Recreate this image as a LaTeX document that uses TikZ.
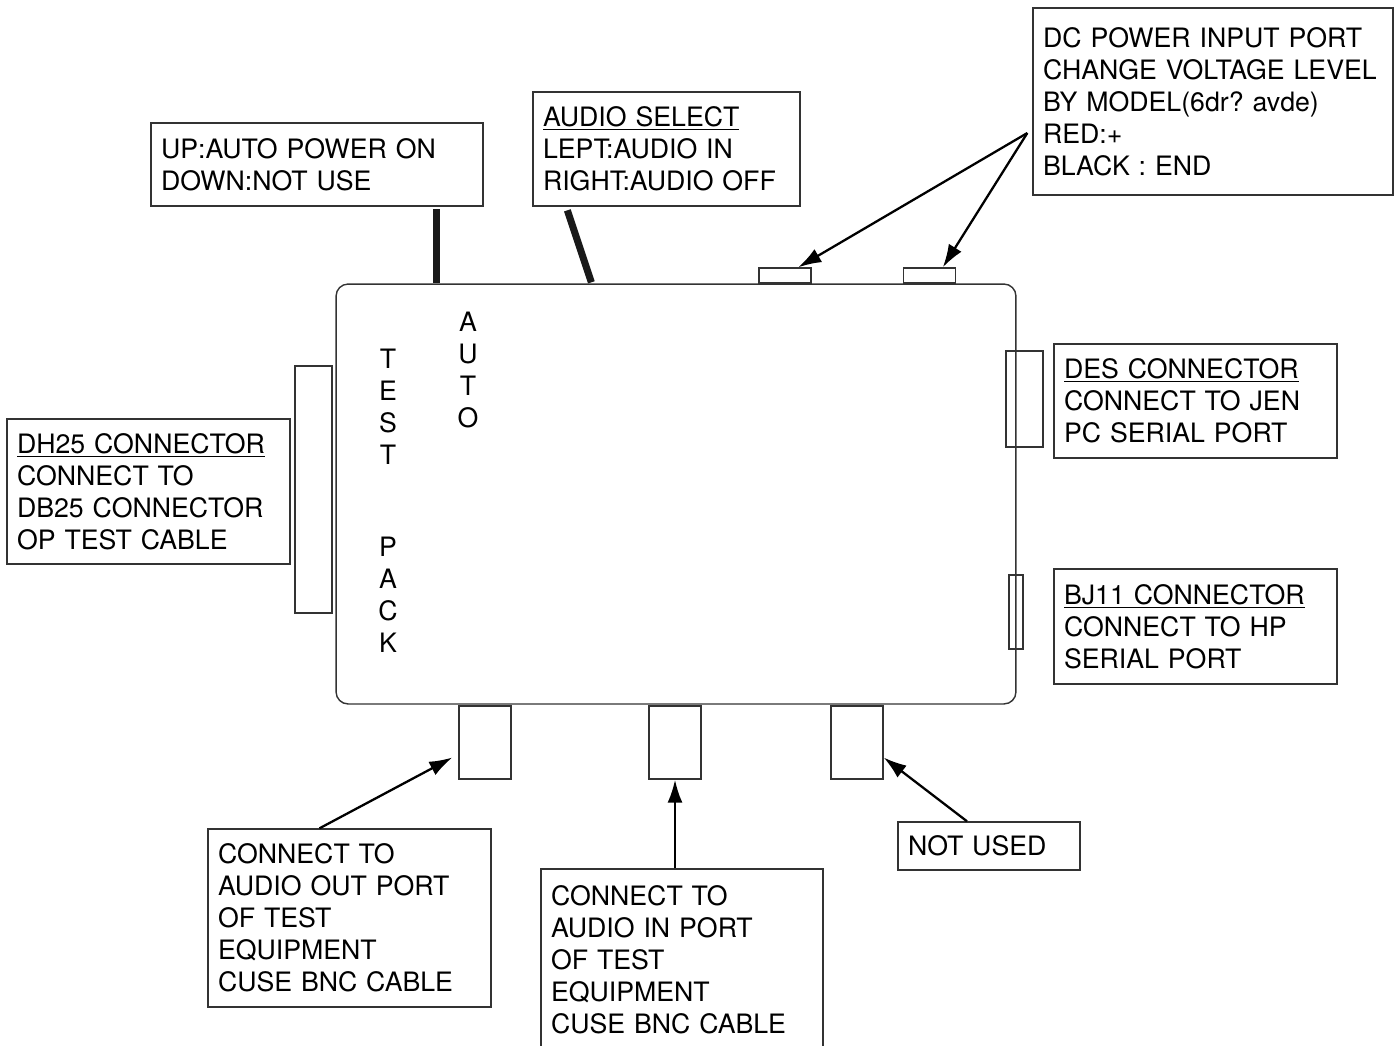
\documentclass[tikz,border=0pt]{standalone}
\usepackage{fontspec}
\setmainfont{TeX Gyre Heros}
\frenchspacing
\usetikzlibrary{arrows.meta, calc}

\begin{document}
\begin{tikzpicture}[x=0.02cm, y=-0.02cm,
    note/.style={rectangle, draw=black!80, line width=0.8pt, align=left,
        inner xsep=0.2cm, inner ysep=0pt,
        font=\fontsize{15.2}{18.2}\selectfont},
    port/.style={rectangle, draw=black!80, line width=0.8pt, inner sep=0pt},
    vtext/.style={align=center, inner sep=0pt,
        font=\fontsize{15.2}{18.2}\selectfont},
    pointer/.style={-{Latex[length=0.46cm, width=0.3cm]}, line width=1.3pt},
    lever/.style={line width=4pt, draw=black!90}
]
\useasboundingbox (0,0) rectangle (1398,1045);
% test pack body
\node[draw=black!80, line width=0.8pt, rounded corners=0.24cm,
      minimum width=13.6cm, minimum height=8.4cm] (pack) at (676,494) {};
\node[vtext] (testlbl) at (388,406.5) {T\\E\\S\\T};
\node[vtext] (packlbl) at (388,595) {P\\A\\C\\K};
\node[vtext] (autolbl) at (468,370) {A\\U\\T\\O};
% ports round the body
\node[port, minimum width=1.04cm, minimum height=0.3cm] (dcA) at (785,275.5) {};
\node[port, minimum width=1.04cm, minimum height=0.3cm] (dcB) at (929.5,275.5) {};
\node[port, minimum width=0.74cm, minimum height=4.94cm] (db25) at (313.5,489.5) {};
\node[port, minimum width=0.74cm, minimum height=1.92cm] (des) at (1024.5,399) {};
\node[port, minimum width=0.28cm, minimum height=1.48cm] (bj11) at (1016,612) {};
\node[port, minimum width=1.04cm, minimum height=1.46cm] (bnc1) at (485,742.5) {};
\node[port, minimum width=1.04cm, minimum height=1.46cm] (bnc2) at (675,742.5) {};
\node[port, minimum width=1.04cm, minimum height=1.46cm] (bnc3) at (857,742.5) {};
% switches
\draw[lever] ($(pack.north west)+(101,-74)$) -- ($(pack.north west)+(101,0)$);
\draw[lever] ($(pack.north west)+(232,-73)$) -- ($(pack.north west)+(256,-1)$);
% notes
\node[note, text width=6.24cm, minimum height=1.66cm] (autonote) at (317,164.5)
    {UP:AUTO POWER ON\\DOWN:NOT USE};
\node[note, text width=4.94cm, minimum height=2.28cm] (audionote) at (666.5,149)
    {\underline{AUDIO SELECT}\\LEPT:AUDIO IN\\RIGHT:AUDIO OFF};
\node[note, text width=6.8cm, minimum height=3.74cm] (dcnote) at (1213,101.5)
    {DC POWER INPUT PORT\\CHANGE VOLTAGE LEVEL\\BY MODEL(6dr? avde)\\RED:+\\BLACK : END};
\node[note, text width=5.26cm, minimum height=2.9cm] (dbnote) at (148.5,491.5)
    {\underline{DH25 CONNECTOR}\\CONNECT TO\\DB25 CONNECTOR\\OP TEST CABLE};
\node[note, text width=5.26cm, minimum height=2.28cm] (desnote) at (1195.5,401)
    {\underline{DES CONNECTOR}\\CONNECT TO JEN\\PC SERIAL PORT};
\node[note, text width=5.26cm, minimum height=2.3cm] (bjnote) at (1195.5,626.5)
    {\underline{BJ11 CONNECTOR}\\CONNECT TO HP\\SERIAL PORT};
\node[note, text width=5.26cm, minimum height=3.56cm] (outnote) at (349.5,918)
    {CONNECT TO\\AUDIO OUT PORT\\OF TEST\\EQUIPMENT\\CUSE BNC CABLE};
\node[note, text width=5.24cm, minimum height=3.62cm] (innote) at (682,959.5)
    {CONNECT TO\\AUDIO IN PORT\\OF TEST\\EQUIPMENT\\CUSE BNC CABLE};
\node[note, text width=3.24cm, minimum height=0.96cm] (unused) at (989,846)
    {NOT USED};
% arrows
\coordinate (dcfoot) at ($(dcnote.west)+(-5,31.5)$);
\draw[pointer] (dcfoot) -- ($(dcA.north)!0.5!(dcA.north east)$);
\draw[pointer] (dcfoot) -- ($(dcB.north)!0.5!(dcB.north east)$);
\draw[pointer] ($(outnote.north)+(-30,0)$) -- ($(bnc1.west)+(-6,15)$);
\draw[pointer] (bnc2.south |- innote.north) -- (bnc2.south);
\draw[pointer] ($(unused.north)+(-22,0)$) -- ($(bnc3.east)+(0,15)$);
\end{tikzpicture}
\end{document}
